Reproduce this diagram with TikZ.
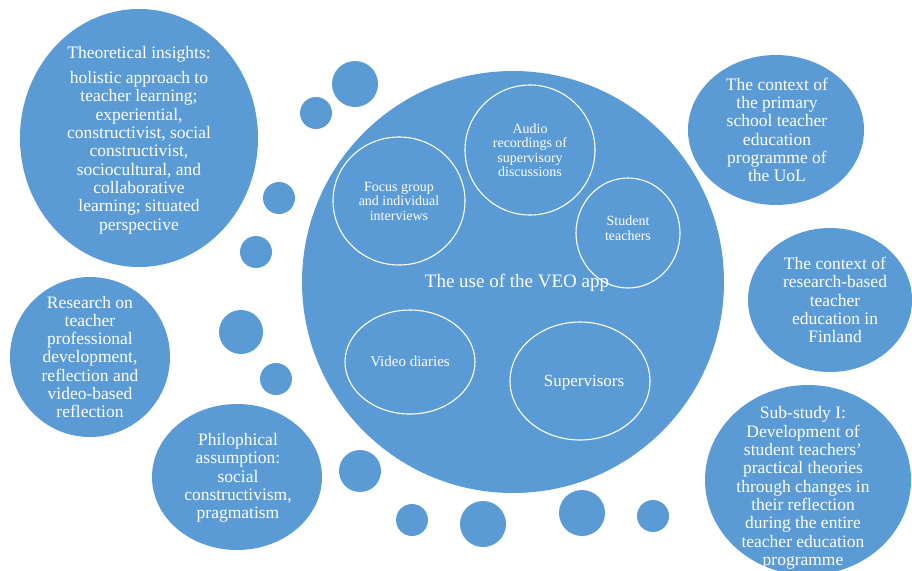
\documentclass[tikz,border=0pt]{standalone}
\usepackage{fontspec}
\setmainfont{Liberation Serif}
\usetikzlibrary{shapes.geometric}
\definecolor{veoblue}{HTML}{5B9BD5}
\tikzset{
  blob/.style={ellipse, fill=veoblue, draw=none, inner sep=0pt},
  bubble/.style={circle, fill=veoblue, draw=none, inner sep=0pt, minimum size=#1},
  ring/.style={ellipse, draw=white, line width=1.1pt, inner sep=0pt},
  txt/.style={text=white, align=center, inner sep=0pt},
  bigtxt/.style={txt, font=\fontsize{17.5}{18.3}\selectfont},
  smalltxt/.style={txt, font=\fontsize{14}{14.5}\selectfont},
}
\begin{document}
\begin{tikzpicture}[x=1pt,y=-1pt]
\useasboundingbox (0,0) rectangle (912,570);
\clip (0,0) rectangle (912,570);

% outer ellipses
\node[blob, minimum width=238, minimum height=258] (theo) at (139,138) {};
\node[blob, minimum width=160, minimum height=160] (res) at (90,357) {};
\node[blob, minimum width=170, minimum height=146] (phil) at (237,477) {};
\node[blob, minimum width=176, minimum height=150] (uol) at (776,130) {};
\node[blob, minimum width=164, minimum height=144] (fin) at (830,300) {};
\node[blob, minimum width=206, minimum height=190] (sub) at (808,480) {};

% main circle
\node[blob, minimum width=422, minimum height=422] (main) at (513,282) {};

% small bubbles
\node[bubble=46] (b1) at (355,84) {};
\node[bubble=32] (b2) at (316,113) {};
\node[bubble=32] (b3) at (279,198) {};
\node[bubble=32] (b4) at (256,252) {};
\node[bubble=44] (b5) at (241,332) {};
\node[bubble=32] (b6) at (276,379) {};
\node[bubble=42] (b7) at (360,471) {};
\node[bubble=32] (b8) at (412,520) {};
\node[bubble=46] (b9) at (483,524) {};
\node[bubble=46] (b10) at (582,513) {};
\node[bubble=32] (b11) at (653,516) {};

% inner rings
\node[ring, minimum width=132, minimum height=128] (focus) at (399,201) {};
\node[ring, minimum width=130, minimum height=130] (audio) at (530,150) {};
\node[ring, minimum width=104, minimum height=110] (stud) at (628,233) {};
\node[ring, minimum width=130, minimum height=104] (video) at (410,362) {};
\node[ring, minimum width=140, minimum height=118] (sup) at (580,381) {};

% texts
\node[bigtxt] (theoT) at (139,140) {Theoretical insights:\\[7pt]holistic approach to\\teacher learning;\\experiential,\\constructivist, social\\constructivist,\\sociocultural, and\\collaborative\\learning; situated\\perspective};
\node[bigtxt] (resT) at (90,357) {Research on\\teacher\\professional\\development,\\reflection and\\video-based\\reflection};
\node[bigtxt] (philT) at (238,478) {Philophical\\assumption:\\social\\constructivism,\\pragmatism};
\node[bigtxt] (uolT) at (777,130) {The context of\\the primary\\school teacher\\education\\programme of\\the UoL};
\node[bigtxt] (finT) at (835,300) {The context of\\research-based\\teacher\\education in\\Finland};
\node[bigtxt] (subT) at (803,488) {Sub-study I:\\Development of\\student teachers’\\practical theories\\through changes in\\their reflection\\during the entire\\teacher education\\programme};

\node[txt, font=\fontsize{19}{22}\selectfont] (mainT) at (517,283) {The use of the VEO app};
\node[smalltxt] (focusT) at (399,201) {Focus group\\and individual\\interviews};
\node[smalltxt] (audioT) at (530,150) {Audio\\recordings of\\supervisory\\discussions};
\node[smalltxt] (studT) at (628,228) {Student\\teachers};
\node[txt, font=\fontsize{15}{17}\selectfont] (videoT) at (410,361) {Video diaries};
\node[txt, font=\fontsize{17}{19}\selectfont] (supT) at (584,383) {Supervisors};
\end{tikzpicture}
\end{document}
